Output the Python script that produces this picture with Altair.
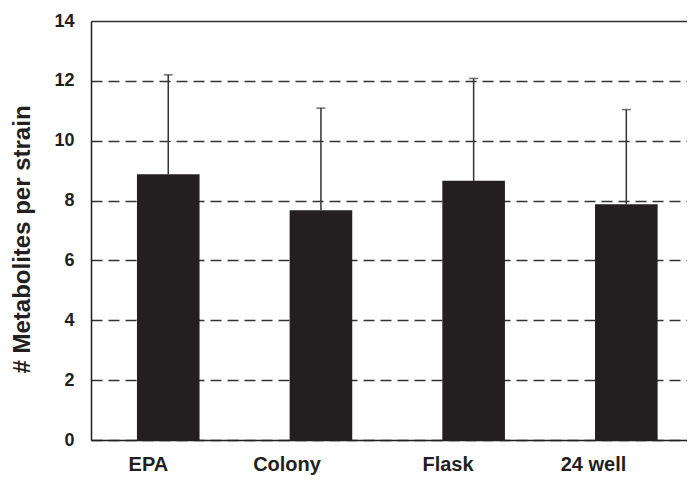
import altair as alt
import pandas as pd

categories = ["EPA", "Colony", "Flask", "24 well"]
means = [8.88, 7.68, 8.66, 7.88]
errors = [3.32, 3.41, 3.42, 3.16]
y_ticks = [0, 2, 4, 6, 8, 10, 12, 14]

df = pd.DataFrame({"cat": categories, "mean": means, "err": errors})
df["upper"] = df["mean"] + df["err"]

ink = "#231f20"
FONT = "Liberation Sans"

x_enc = alt.X("cat:N", sort=categories, title=None,
              scale=alt.Scale(paddingInner=0.59, paddingOuter=0.2466, align=0.61),
              axis=alt.Axis(labelFont=FONT, labelFontSize=20, labelFontWeight="bold",
                            labelColor=ink, labelAngle=0, labelPadding=24, ticks=False,
                            domainColor=ink, domainWidth=1.5, grid=False))
y_scale = alt.Scale(domain=[0, 14], nice=False)

bars = alt.Chart(df).mark_bar(color=ink).encode(
    x=x_enc,
    y=alt.Y("mean:Q", scale=y_scale, title="# Metabolites per strain",
            axis=alt.Axis(values=y_ticks, labelFont=FONT, labelFontSize=18,
                          labelFontWeight="bold", labelColor=ink, labelPadding=17,
                          ticks=False, domainColor=ink, domainWidth=1.5,
                          grid=True, gridColor="#333333", gridWidth=1.5,
                          gridDash={"condition": {"test": "datum.value == 14", "value": []},
                                    "value": [11, 6]},
                          titleFont=FONT, titleFontSize=24, titleFontWeight="bold",
                          titleColor=ink, titleAngle=270, titleX=-69, titleY=218,
                          titleAlign="center", titleBaseline="middle")),
)

rules = alt.Chart(df).mark_rule(color="#333333", strokeWidth=1.5).encode(
    x=alt.X("cat:N", sort=categories),
    y=alt.Y("mean:Q", scale=y_scale),
    y2="upper:Q",
)

caps = alt.Chart(df).mark_tick(color="#333333", thickness=1.5, size=9).encode(
    x=alt.X("cat:N", sort=categories),
    y=alt.Y("upper:Q", scale=y_scale),
)

chart = alt.layer(rules, bars, caps).properties(
    width=596, height=419,
    autosize=alt.AutoSizeParams(type="none"),
    padding={"left": 83, "top": 13, "right": 0, "bottom": 37},
).configure_view(stroke=None).configure(background="white")

chart.save("out.html", embed_options={"renderer": "svg", "actions": False})
